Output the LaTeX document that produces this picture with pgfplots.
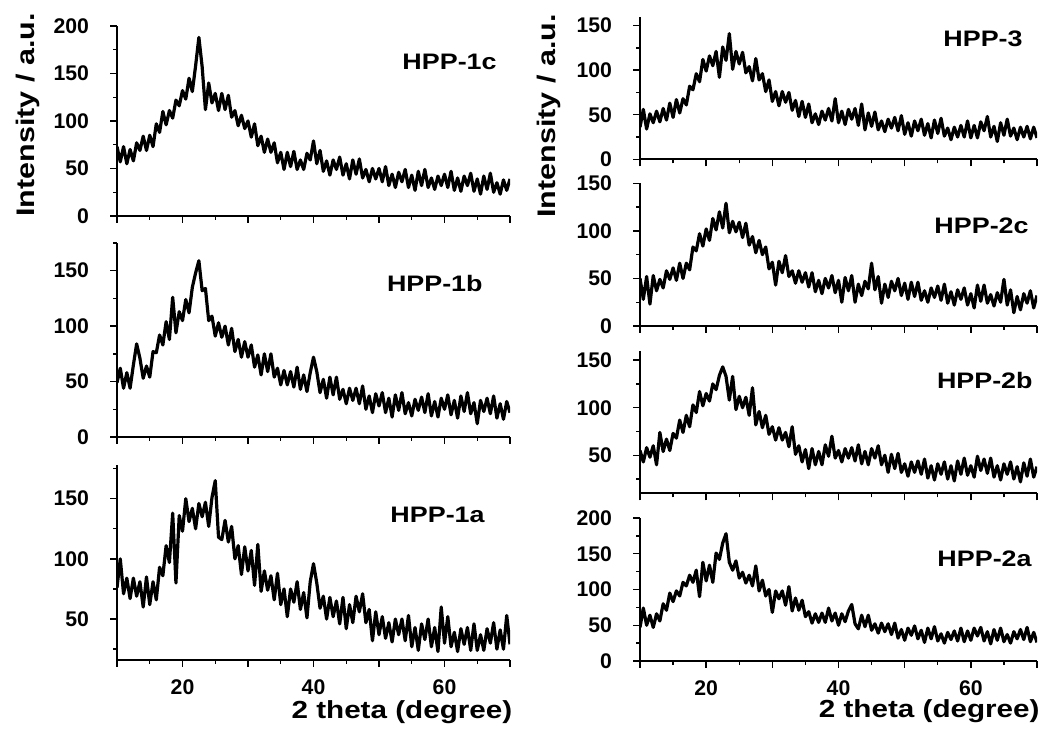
\documentclass[border=0pt]{standalone}
\usepackage{fontspec}
\setmainfont{Liberation Sans}
\newfontfamily\widefont{Liberation Sans}[FakeStretch=1.2]
\usepackage{pgfplots}
\usepackage{pgfplotstable}
\pgfplotsset{compat=1.18}

\pgfplotstableread{
x c1 b1 a1 h3 c2 b2 a2
10 73 49 76 36 50 55 47
10.5 57 62 100 56 28 43 74
11 73 44 71 34 52 58 50
11.5 55 58 84 51 23 48 64
12 70 44 67 41 53 60 47
12.5 58 65 84 54 37 40 66
13 77 84 69 42 49 74 56
13.5 69 71 81 57 40 54 80
14 84 53 60 44 58 67 71
14.5 69 64 85 63 49 55 95
15 85 54 62 47 61 73 83
15.5 73 77 81 67 48 68 98
16 97 76 66 52 66 87 91
16.5 88 92 93 68 50 74 110
17 110 83 86 61 66 92 105
17.5 96 104 111 82 59 80 120
18 111 88 97 78 83 103 110
18.5 103 126 138 96 79 95 127
19 122 94 80 87 97 117 90
19.5 116 113 136 112 84 102 138
20 132 105 123 99 102 115 112
20.5 123 124 150 116 90 107 134
21 145 112 131 105 113 125 110
21.5 131 135 142 121 101 119 151
22 158 148 125 92 120 134 142
22.5 188 159 146 126 103 143 165
23 157 132 135 111 129 133 178
23.5 112 134 147 141 98 108 138
24 140 105 127 101 110 133 127
24.5 119 109 151 121 99 98 140
25 129 91 165 107 109 112 116
25.5 111 103 118 120 93 100 124
26 129 90 116 97 108 111 109
26.5 112 100 132 104 85 92 120
27 127 83 114 88 94 121 105
27.5 104 98 127 113 77 82 133
28 111 77 100 89 90 96 98
28.5 95 88 111 96 75 79 113
29 106 72 87 76 83 92 91
29.5 92 86 110 89 60 72 100
30 100 72 90 65 67 80 68
30.5 83 83 107 76 43 66 98
31 97 63 78 60 68 79 87
31.5 74 74 112 76 56 66 98
32 84 56 73 64 74 74 78
32.5 67 75 90 75 52 59 104
33 81 59 74 55 58 80 70
33.5 67 75 86 66 45 51 88
34 77 54 66 48 58 60 71
34.5 56 62 88 65 46 43 85
35 67 47 62 47 56 56 62
35.5 49 60 75 62 41 36 69
36 67 47 52 41 56 57 53
36.5 52 59 75 51 36 40 66
37 68 45 64 39 48 54 54
37.5 49 63 81 54 34 40 67
38 59 43 58 44 50 61 54
38.5 49 56 72 57 40 49 74
39 66 41 51 43 53 70 56
39.5 59 58 81 68 35 47 67
40 79 72 96 41 48 55 50
40.5 55 59 80 54 25 43 66
41 69 40 59 39 51 57 55
41.5 47 52 69 56 37 47 70
42 58 35 50 45 53 58 79
42.5 43 54 68 57 25 44 52
43 59 38 52 38 44 61 45
43.5 49 54 65 62 32 41 64
44 62 34 46 33 47 54 48
44.5 43 43 68 52 39 40 64
45 55 30 42 37 66 57 43
45.5 39 44 62 53 38 47 52
46 59 33 47 33 52 60 39
46.5 44 44 69 43 24 40 53
47 60 30 56 31 44 50 41
47.5 40 46 71 45 30 32 52
48 49 25 47 35 47 51 37
48.5 36 37 58 47 37 36 53
49 50 22 32 32 50 52 32
49.5 39 39 56 49 32 32 44
50 50 28 37 28 45 41 29
50.5 36 40 52 41 28 28 46
51 52 22 34 26 46 43 36
51.5 32 35 47 43 31 32 49
52 44 18 31 32 46 44 31
52.5 30 38 50 45 27 30 43
53 46 24 37 27 37 46 26
53.5 36 40 50 40 25 26 46
54 49 21 32 24 40 39 31
54.5 30 31 53 44 30 24 48
55 43 19 27 29 42 41 28
55.5 27 34 43 46 27 30 38
56 47 24 24 26 44 43 25
56.5 32 36 46 35 24 25 40
57 49 22 33 22 36 39 30
57.5 30 39 50 36 22 23 42
58 40 19 27 25 38 44 28
58.5 28 32 43 38 28 30 46
59 42 18 23 25 40 47 27
59.5 32 35 60 43 22 29 42
60 44 25 30 24 34 39 29
60.5 30 38 52 38 19 27 46
61 47 20 27 24 43 49 35
61.5 27 33 39 42 26 34 47
62 40 17 23 32 43 46 28
62.5 26 37 42 48 24 31 41
63 42 23 29 25 33 47 24
63.5 32 40 43 37 21 27 44
64 45 21 24 20 35 39 29
64.5 26 31 46 41 25 24 46
65 39 12 24 27 49 41 27
65.5 23 33 37 45 22 30 37
66 42 23 24 26 38 43 25
66.5 28 35 42 35 14 25 41
67 45 21 30 22 31 38 31
67.5 25 37 47 36 17 22 44
68 35 17 25 25 34 42 30
68.5 23 30 41 37 24 28 47
69 38 16 25 23 37 46 27
69.5 27 32 53 36 19 27 40
70 39 22 29 24 32 38 26
}\xrd

\pgfplotsset{
  xrdaxis/.style={
    scale only axis,
    xmin=10, xmax=70,
    axis x line*=bottom, axis y line*=left,
    axis line style={-, line width=0.8pt, black},
    every outer x axis line/.append style={-},
    every outer y axis line/.append style={-},
    tick align=outside,
    major tick length=3.5pt, minor tick length=2pt,
    tick style={black, line width=0.7pt},
    xtick={10,20,...,70}, minor xtick={15,25,...,65},
    ytick={0,50,...,200}, minor ytick={25,75,125,175},
    xticklabels={},
    tick label style={font=\fontsize{10.6}{12}\selectfont\bfseries},
    /pgf/number format/assume math mode=true,
    yticklabel style={xshift=-7pt},
    xticklabel style={yshift=-3pt},
  },
  leftcol/.style={xrdaxis, width=196.5pt},
  rightcol/.style={xrdaxis, width=198.5pt},
  xrdline/.style={black, line width=1.6pt, line join=round, mark=none},
}

\begin{document}
\begin{tikzpicture}
\path[use as bounding box] (0,0) rectangle (526.5pt,365.5pt);

% Left column
\begin{axis}[leftcol, at={(58.5pt,257.5pt)}, anchor=south west, height=95pt, ymin=0, ymax=200]
\addplot[xrdline] table[x=x, y=c1] {\xrd};
\end{axis}
\begin{axis}[leftcol, at={(58.5pt,147pt)}, anchor=south west, height=97pt, ymin=0, ymax=175]
\addplot[xrdline] table[x=x, y=b1] {\xrd};
\end{axis}
\begin{axis}[leftcol, at={(58.5pt,35.5pt)}, anchor=south west, height=97.5pt, ymin=16, ymax=178,
  xticklabels={,20,,40,,60,}]
\addplot[xrdline] table[x=x, y=a1] {\xrd};
\end{axis}

% Right column
\begin{axis}[rightcol, at={(320pt,285.85pt)}, anchor=south west, height=71.3pt, ymin=0, ymax=160]
\addplot[xrdline] table[x=x, y=h3] {\xrd};
\end{axis}
\begin{axis}[rightcol, at={(320pt,202.5pt)}, anchor=south west, height=71.35pt, ymin=0, ymax=150]
\addplot[xrdline] table[x=x, y=c2] {\xrd};
\end{axis}
\begin{axis}[rightcol, at={(320pt,118.85pt)}, anchor=south west, height=71.3pt, ymin=10, ymax=160]
\addplot[xrdline] table[x=x, y=b2] {\xrd};
\end{axis}
\begin{axis}[rightcol, at={(320pt,35pt)}, anchor=south west, height=71.5pt, ymin=0, ymax=200,
  xticklabels={,20,,40,,60,}]
\addplot[xrdline] table[x=x, y=a2] {\xrd};
\end{axis}

% Axis titles
\node[rotate=90, anchor=base west, inner sep=0pt, font=\widefont\bfseries\fontsize{12.7}{14}\selectfont] at (17.5pt,257pt) {Intensity / a.u.};
\node[rotate=90, anchor=base west, inner sep=0pt, font=\widefont\bfseries\fontsize{12.7}{14}\selectfont] at (277.5pt,256.5pt) {Intensity / a.u.};
\node[anchor=base east, inner sep=0pt, font=\widefont\bfseries\fontsize{12.35}{14}\selectfont] at (256.35pt,6pt) {2 theta (degree)};
\node[anchor=base east, inner sep=0pt, font=\widefont\bfseries\fontsize{12.35}{14}\selectfont] at (520pt,6.5pt) {2 theta (degree)};

% Sample labels
\begin{scope}[every node/.style={anchor=base east, inner sep=0pt, font=\widefont\bfseries\fontsize{11.2}{13}\selectfont}]
\node at (248.5pt,330.5pt) {HPP-1c};
\node at (241.5pt,219.5pt) {HPP-1b};
\node at (242.5pt,104pt) {HPP-1a};
\node at (511.5pt,342pt) {HPP-3};
\node at (514.5pt,248.5pt) {HPP-2c};
\node at (516.5pt,171pt) {HPP-2b};
\node at (516pt,82pt) {HPP-2a};
\end{scope}
\end{tikzpicture}
\end{document}
